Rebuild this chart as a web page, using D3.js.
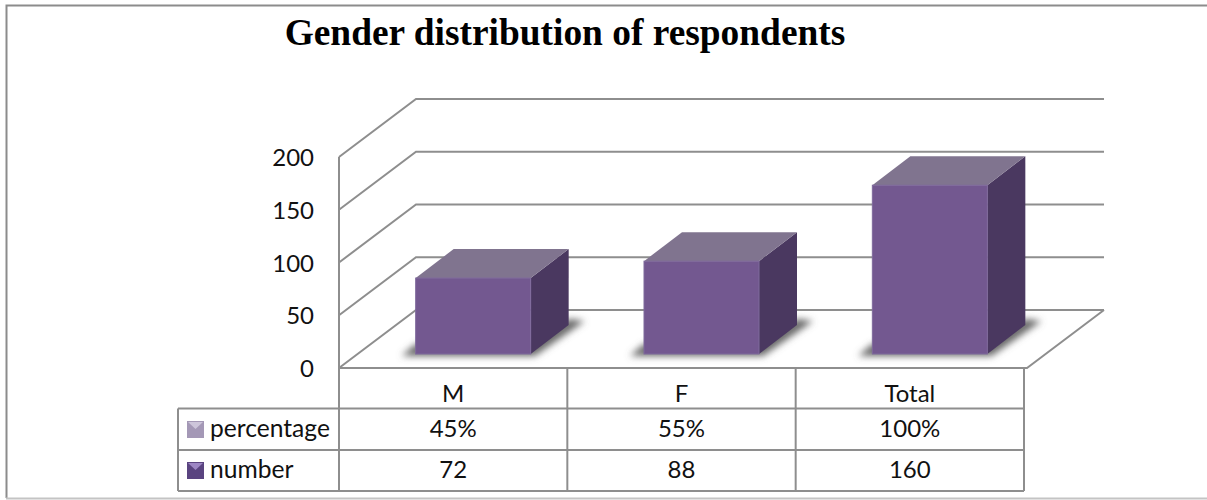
<!DOCTYPE html>
<html lang="en">
    <head>
        <meta charset="utf-8">
        <title>Gender distribution of respondents</title>
        <script type="text/javascript" src="https://cdn.jsdelivr.net/npm/d3@7"></script>
        <style>
            html, body { margin: 0; padding: 0; background: #fff; }
            svg { display: block; }
            .lbl { font-family: Lato, sans-serif; font-size: 24px; fill: #111; }
        </style>
    </head>

    <body>
        <script type="text/javascript">
        var w = 1207;
        var h = 500;

        var title = "Gender distribution of respondents";
        var categories = ["M", "F", "Total"];
        var number = [72, 88, 160];
        var percentage = [45, 55, 100];
        var yTicks = [0, 50, 100, 150, 200];

        // 3d offsets of the chart box and of the bars
        var wallDx = 77, wallDy = -58;
        var barDx = 38, barDy = -29;
        var barW = 115;
        var lineCol = "#8e8e8e";

        var xScale = d3.scaleBand()
                        .domain(categories)
                        .range([339, 1024]);

        var yScale = d3.scaleLinear()
                        .domain([0, 200])
                        .range([368, 157]);

        var svg = d3.select("body")
                    .append("svg")
                    .attr("width", w)
                    .attr("height", h);

        var defs = svg.append("defs");
        defs.append("filter")
            .attr("id", "blur")
            .attr("x", "-20%").attr("y", "-50%")
            .attr("width", "140%").attr("height", "200%")
            .append("feGaussianBlur")
            .attr("stdDeviation", 3.5);

        // outer frame, right side is open in the original
        svg.append("path")
            .attr("d", "M1207,5.5H6.5V498")
            .attr("fill", "none")
            .attr("stroke", "#8c8c8c")
            .attr("stroke-width", 2);
        svg.append("line")
            .attr("x1", 6).attr("x2", 1207)
            .attr("y1", 498.5).attr("y2", 498.5)
            .attr("stroke", "#c4c4c4")
            .attr("stroke-width", 2);

        svg.append("text")
            .attr("x", 565)
            .attr("y", 45)
            .attr("text-anchor", "middle")
            .attr("font-family", "'Liberation Serif', serif")
            .attr("font-weight", "bold")
            .attr("font-size", "37.4px")
            .attr("fill", "#000")
            .text(title);

        // gridlines run along the side wall and then the back wall
        var x0 = xScale.range()[0];
        var backRight = 1104;
        svg.selectAll("path.grid")
            .data(yTicks)
            .enter()
            .append("path")
            .attr("class", "grid")
            .attr("d", function(d){
                var y = yScale(d);
                return "M" + x0 + "," + y + "L" + (x0 + wallDx) + "," + (y + wallDy) + "H" + backRight;
            })
            .attr("fill", "none")
            .attr("stroke", lineCol)
            .attr("stroke-width", 2);

        // front edge and right edge of the floor
        svg.append("path")
            .attr("d", "M" + backRight + "," + (yScale(0) + wallDy) + "L" + (backRight - wallDx) + "," + yScale(0) + "H" + x0)
            .attr("fill", "none")
            .attr("stroke", lineCol)
            .attr("stroke-width", 2);

        // left wall edge
        svg.append("line")
            .attr("x1", x0).attr("x2", x0)
            .attr("y1", yScale(200)).attr("y2", yScale(0))
            .attr("stroke", lineCol)
            .attr("stroke-width", 2);

        // bar helpers
        function barX(d, i){
            return xScale(categories[i]) + xScale.bandwidth() / 2 + barDx / 2 - barW / 2 + 1;
        }
        function barBase(){
            return yScale(0) - 14;
        }
        function barTop(d){
            return barBase() - (yScale(0) - yScale(d));
        }

        var bars = svg.selectAll("g.bar")
                    .data(number)
                    .enter()
                    .append("g")
                    .attr("class", "bar");

        // floor shadow
        bars.append("path")
            .attr("d", function(d, i){
                var x = barX(d, i), b = barBase();
                return "M" + (x - 14) + "," + (b + 2) + "H" + (x + barW + 4) +
                       "L" + (x + barW + barDx + 16) + "," + (b + barDy - 4) +
                       "L" + (x + barW + barDx) + "," + (b + barDy - 6) +
                       "L" + (x + barW) + "," + (b - 10) + "H" + x + "Z";
            })
            .attr("fill", "#666")
            .attr("filter", "url(#blur)");

        // side face
        bars.append("path")
            .attr("d", function(d, i){
                var x = barX(d, i) + barW, t = barTop(d), b = barBase();
                return "M" + x + "," + t + "L" + (x + barDx) + "," + (t + barDy) +
                       "V" + (b + barDy) + "L" + x + "," + b + "Z";
            })
            .attr("fill", "#4a3860");

        // top face
        bars.append("path")
            .attr("d", function(d, i){
                var x = barX(d, i), t = barTop(d);
                return "M" + x + "," + t + "L" + (x + barDx) + "," + (t + barDy) +
                       "H" + (x + barW + barDx) + "L" + (x + barW) + "," + t + "Z";
            })
            .attr("fill", "#80748f");

        // front face
        bars.append("rect")
            .attr("x", barX)
            .attr("y", barTop)
            .attr("width", barW)
            .attr("height", function(d){ return barBase() - barTop(d); })
            .attr("fill", "#735890")
            .attr("stroke", "#7f6a9c")
            .attr("stroke-width", 1);

        // y axis, labels only
        var yAxis = d3.axisLeft(yScale)
                    .tickValues(yTicks)
                    .tickSize(0)
                    .tickPadding(0);
        var axisG = svg.append("g")
                    .attr("transform", "translate(314,1)")
                    .call(yAxis);
        axisG.select(".domain").remove();
        axisG.selectAll("text")
            .attr("class", "lbl")
            .attr("font-family", null)
            .attr("font-size", null);

        // data table under the chart
        var rowY = [368, 408.5, 450, 491];
        var tableLeft = 178;
        var tableCols = [x0].concat(categories.map(function(c){ return xScale(c) + xScale.bandwidth(); }));
        var table = svg.append("g")
                    .attr("stroke", lineCol)
                    .attr("stroke-width", 2);

        table.selectAll("line.col")
            .data(tableCols)
            .enter()
            .append("line")
            .attr("class", "col")
            .attr("x1", function(d){ return d; })
            .attr("x2", function(d){ return d; })
            .attr("y1", rowY[0])
            .attr("y2", rowY[3]);

        table.selectAll("line.row")
            .data(rowY.slice(1))
            .enter()
            .append("line")
            .attr("class", "row")
            .attr("x1", tableLeft)
            .attr("x2", tableCols[3])
            .attr("y1", function(d){ return d; })
            .attr("y2", function(d){ return d; });

        table.append("line")
            .attr("x1", tableLeft)
            .attr("x2", tableLeft)
            .attr("y1", rowY[1])
            .attr("y2", rowY[3]);

        function cellText(values, fmt, y){
            svg.selectAll(null)
                .data(values)
                .enter()
                .append("text")
                .attr("class", "lbl")
                .attr("text-anchor", "middle")
                .attr("x", function(d, i){ return xScale(categories[i]) + xScale.bandwidth() / 2; })
                .attr("y", y)
                .text(fmt);
        }
        cellText(categories, function(d){ return d; }, 402);
        cellText(percentage, function(d){ return d + "%"; }, 437);
        cellText(number, function(d){ return d; }, 478);

        // legend keys in the table
        var seriesNames = ["percentage", "number"];
        var keyCols = [["#a498b6", "#cdc5da"], ["#5a4480", "#9d86c4"]];
        var keys = svg.selectAll("g.key")
                    .data(seriesNames)
                    .enter()
                    .append("g")
                    .attr("class", "key")
                    .attr("transform", function(d, i){ return "translate(187," + (i == 0 ? 421 : 462) + ")"; });
        keys.append("rect")
            .attr("width", 17)
            .attr("height", 17)
            .attr("fill", function(d, i){ return keyCols[i][0]; });
        keys.append("path")
            .attr("d", "M1,1H16L8.5,8Z")
            .attr("fill", function(d, i){ return keyCols[i][1]; });
        keys.append("text")
            .attr("class", "lbl")
            .attr("x", 23)
            .attr("y", 16)
            .style("font-size", "24.6px")
            .text(function(d){ return d; });

        </script>
    </body>
</html>
